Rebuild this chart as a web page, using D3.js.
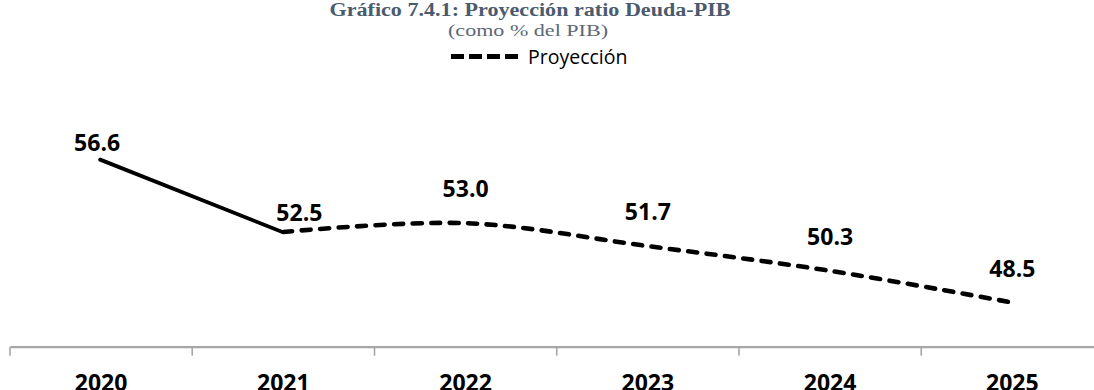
<!DOCTYPE html>
<html>
<head>
<meta charset="utf-8">
<script src="https://cdn.jsdelivr.net/npm/d3@7"></script>
<style>
  html, body { margin: 0; padding: 0; background: #fff; }
  svg { display: block; }
</style>
</head>
<body>
<svg id="chart" width="1094" height="390"></svg>
<script>
// Debt-to-GDP ratio, % of GDP
const years = ["2020", "2021", "2022", "2023", "2024", "2025"];
const actualYears = ["2020", "2021"];
const actualValues = [56.6, 52.5];
const projYears = ["2021", "2022", "2023", "2024", "2025"];
const projValues = [52.5, 53.0, 51.7, 50.3, 48.5];

const titleText = "Gráfico 7.4.1: Proyección ratio Deuda-PIB";
const subtitleText = "(como % del PIB)";
const legendText = "Proyección";

const svg = d3.select("#chart");

const x = d3.scaleBand().domain(years).range([10, 1103.5]).paddingInner(0).paddingOuter(0);
const y = d3.scaleLinear().domain([46, 58]).range([346.7, 134.9]);
const cx = d => x(d) + x.bandwidth() / 2;

// Titles
svg.append("text")
  .attr("x", 530).attr("y", 16)
  .attr("text-anchor", "middle")
  .attr("font-family", "'Liberation Serif', serif")
  .attr("font-weight", "bold")
  .attr("font-size", 18)
  .attr("fill", "#4b5b6e")
  .attr("textLength", 401).attr("lengthAdjust", "spacingAndGlyphs")
  .text(titleText);

svg.append("text")
  .attr("x", 528).attr("y", 36)
  .attr("text-anchor", "middle")
  .attr("font-family", "'Liberation Serif', serif")
  .attr("font-size", 17)
  .attr("fill", "#5c6877")
  .attr("textLength", 160).attr("lengthAdjust", "spacingAndGlyphs")
  .text(subtitleText);

// Legend
const legend = svg.append("g");
legend.append("line")
  .attr("x1", 451).attr("x2", 518).attr("y1", 56.5).attr("y2", 56.5)
  .attr("stroke", "#000").attr("stroke-width", 5)
  .attr("stroke-dasharray", "13,5");
legend.append("text")
  .attr("x", 528).attr("y", 63.5)
  .attr("font-family", "'Open Sans', sans-serif")
  .attr("font-size", 19.5)
  .attr("fill", "#000")
  .text(legendText);

// Category axis: baseline with ticks between categories
const axis = d3.axisBottom(x).tickSize(0).tickPadding(0).tickFormat("");
const axisG = svg.append("g").attr("transform", `translate(0,${y(46)})`).call(axis);
axisG.select(".domain").attr("stroke", "#a6a6a6").attr("stroke-width", 2.2);
axisG.selectAll(".tick").remove();
axisG.selectAll(".sep")
  .data(years)
  .join("line")
  .attr("class", "sep")
  .attr("x1", d => x(d)).attr("x2", d => x(d))
  .attr("y1", 0).attr("y2", 9)
  .attr("stroke", "#a6a6a6").attr("stroke-width", 1.6);

svg.append("g").selectAll("text")
  .data(years)
  .join("text")
  .attr("x", d => cx(d))
  .attr("y", 390.5)
  .attr("text-anchor", "middle")
  .attr("font-family", "'Open Sans', sans-serif")
  .attr("font-weight", "bold")
  .attr("font-size", 23)
  .attr("fill", "#000")
  .text(d => d);

// Historical series (solid)
const actualData = actualYears.map((d, i) => ({ year: d, value: actualValues[i] }));
const projData = projYears.map((d, i) => ({ year: d, value: projValues[i] }));

svg.append("path")
  .datum(actualData)
  .attr("fill", "none")
  .attr("stroke", "#000")
  .attr("stroke-width", 3.8)
  .attr("stroke-linecap", "round")
  .attr("d", d3.line().x(d => cx(d.year) - 1).y(d => y(d.value)));

// Projection series (smoothed, dashed)
svg.append("path")
  .datum(projData)
  .attr("fill", "none")
  .attr("stroke", "#000")
  .attr("stroke-width", 4.6)
  .attr("stroke-linecap", "round")
  .attr("stroke-dasharray", "9,9.5")
  .attr("d", d3.line().curve(d3.curveCardinal.tension(0)).x(d => cx(d.year)).y(d => y(d.value)));

// Data labels
const labelFont = g => g
  .attr("text-anchor", "middle")
  .attr("font-family", "'Open Sans', sans-serif")
  .attr("font-weight", "bold")
  .attr("font-size", 23)
  .attr("fill", "#000");

svg.append("text")
  .attr("x", cx(actualYears[0]) - 4).attr("y", y(actualValues[0]) - 9)
  .call(labelFont).text(actualValues[0].toFixed(1));

svg.append("text")
  .attr("x", cx(actualYears[1]) + 16).attr("y", y(actualValues[1]) - 11)
  .call(labelFont).text(actualValues[1].toFixed(1));

svg.append("g").selectAll("text")
  .data(projData.slice(1))
  .join("text")
  .attr("x", d => cx(d.year))
  .attr("y", d => y(d.value) - 26)
  .call(labelFont)
  .text(d => d.value.toFixed(1));
</script>
</body>
</html>
